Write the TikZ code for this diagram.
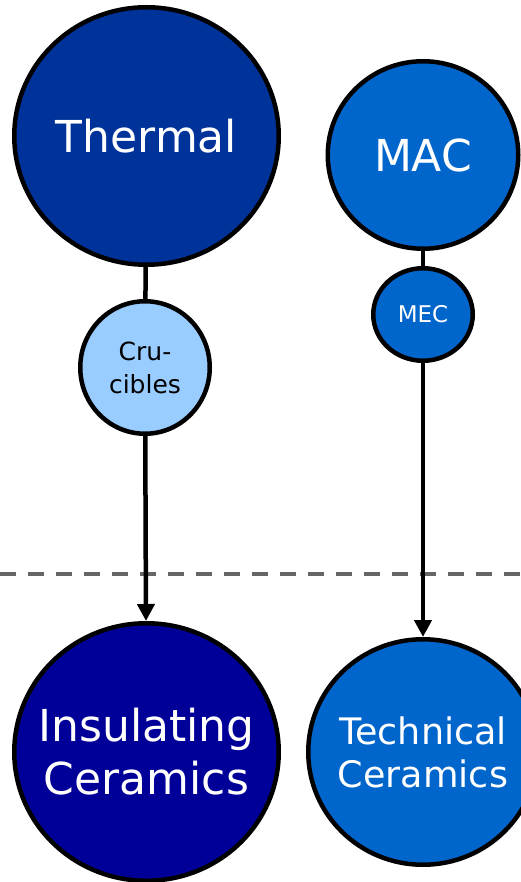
\documentclass[tikz,border=0pt]{standalone}
\usepackage{fontspec}
\setmainfont{DejaVu Sans}
\usetikzlibrary{shapes.geometric,arrows.meta}
\definecolor{thermalblue}{HTML}{003399}
\definecolor{midblue}{HTML}{0066CC}
\definecolor{lightblue}{HTML}{99CCFF}
\definecolor{navyblue}{HTML}{000099}
\definecolor{dashgray}{HTML}{666666}
\tikzset{
  bubble/.style={ellipse, draw=black, line width=4.5pt, inner sep=0pt},
  txt/.style={align=center, inner sep=0pt},
  conn/.style={line width=4.5pt, draw=black},
  arr/.style={conn, -{Triangle[length=17pt,width=17pt]}},
}
\begin{document}
\begin{tikzpicture}[x=1pt,y=-1pt]
\useasboundingbox (0,0) rectangle (520,882);
\draw[dashgray, line width=4pt, dash pattern=on 16pt off 12pt] (0,573.5) -- (520,573.5);
\node[bubble, fill=thermalblue, minimum width=264.5pt, minimum height=257.5pt] (thermal) at (146.5,136) {};
\node[bubble, fill=midblue, minimum width=190.5pt, minimum height=187.5pt] (mac) at (423,155) {};
\node[bubble, fill=midblue, minimum width=99.5pt, minimum height=92.5pt] (mec) at (423,314.5) {};
\node[bubble, fill=lightblue, minimum width=129.5pt, minimum height=132.5pt] (cru) at (145,367.5) {};
\node[bubble, fill=navyblue, minimum width=264.5pt, minimum height=257.5pt] (ins) at (146.5,752) {};
\node[bubble, fill=midblue, minimum width=229.5pt, minimum height=225.5pt] (tech) at (423,752) {};
\node[txt, text=white, font=\fontsize{44}{53}\selectfont] (thermaltxt) at (thermal) {Thermal};
\node[txt, text=white, font=\fontsize{44}{53}\selectfont] (mactxt) at (mac) {MAC};
\node[txt, text=white, font=\fontsize{23}{28}\selectfont] (mectxt) at (mec) {MEC};
\node[txt, text=black, font=\fontsize{25}{33}\selectfont] (crutxt) at (cru) {Cru-\\cibles};
\node[txt, text=white, font=\fontsize{44}{53}\selectfont] (instxt) at (ins) {Insulating\\Ceramics};
\node[txt, text=white, font=\fontsize{36.5}{43}\selectfont] (techtxt) at (tech) {Technical\\Ceramics};
\draw[conn] (thermal) -- (cru);
\draw[conn] (mac) -- (mec);
\draw[arr] (cru) -- (ins);
\draw[arr] (mec) -- (tech);
\end{tikzpicture}
\end{document}
